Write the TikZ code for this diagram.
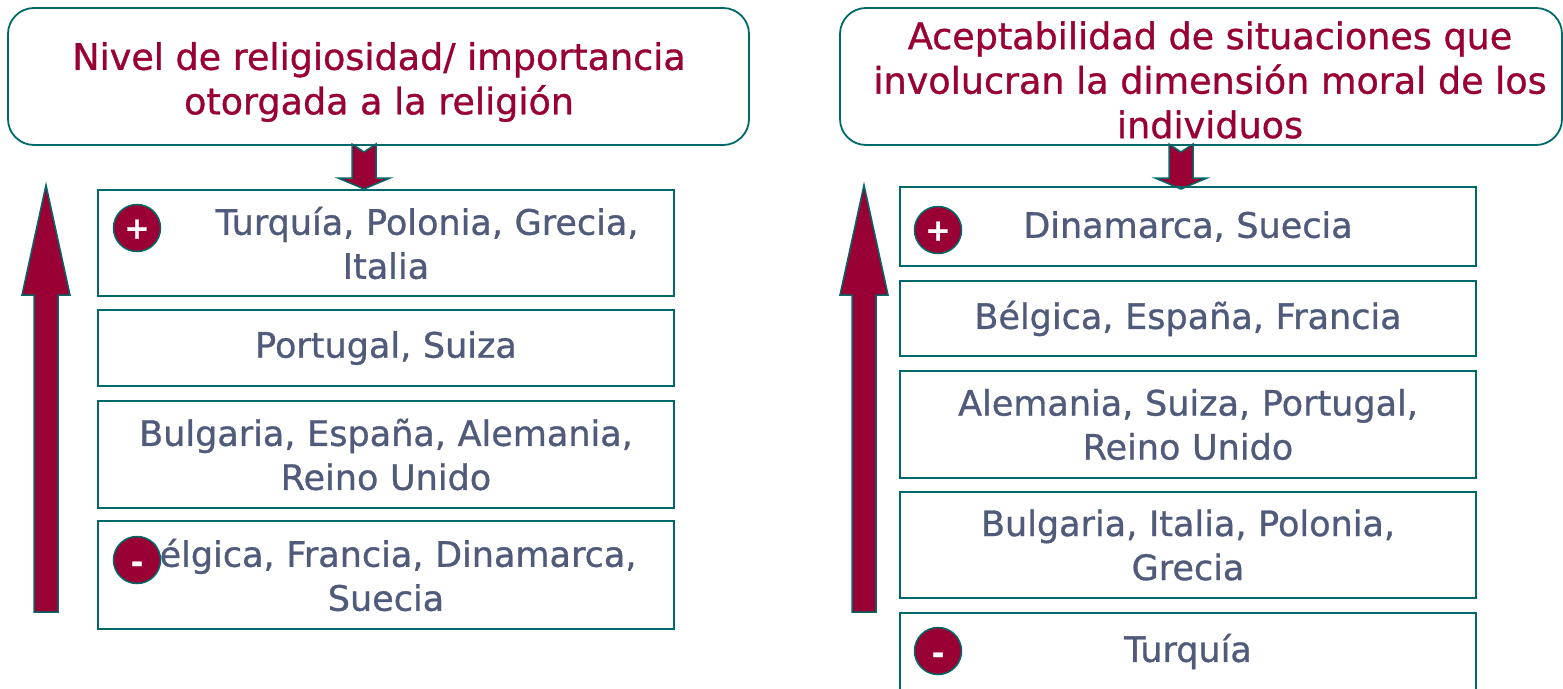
\documentclass[tikz,border=0pt]{standalone}
\usepackage{fontspec}
\setmainfont[FakeBold=0.9]{DejaVu Sans}
\definecolor{crim}{RGB}{153,0,51}
\definecolor{teal}{RGB}{0,104,104}
\definecolor{slate}{RGB}{80,90,122}
\begin{document}
\begin{tikzpicture}[x=1pt,y=-1pt,
  hdr/.style={draw=teal,line width=1.8pt,rounded corners=26pt,fill=white},
  hdrtext/.style={text=crim,align=center,font=\fontsize{36.5}{44.5}\selectfont,inner sep=0pt},
  item/.style={draw=teal,line width=1.8pt,minimum width=576pt,text width=574pt,align=center,
    text=slate,font=\fontsize{35}{44}\selectfont,inner sep=0pt},
  bigarrow/.style={fill=crim,draw=teal,line width=1.5pt,line join=miter},
  sign/.style={circle,fill=crim,draw=teal,line width=1.5pt,minimum size=47pt,inner sep=0pt,
    text height=0pt,text depth=0pt,
    text=white,font=\bfseries\fontsize{30}{30}\selectfont}]
\useasboundingbox (0,0) rectangle (1563,688);
% headers
\draw[hdr] (8,8) rectangle (749,145);
\node[hdrtext] (h1) at (379,82) {Nivel de religiosidad/ importancia\\otorgada a la religión};
\draw[hdr] (840,8) rectangle (1562,145);
\node[hdrtext] (h2) at (1210,80) {Aceptabilidad de situaciones que\\involucran la dimensión moral de los\\individuos};
% down arrows
\draw[bigarrow] (352,144) -- (364,152) -- (376,144) -- (376,178) -- (390,178) -- (364,189) -- (338,178) -- (352,178) -- cycle;
\draw[bigarrow] (1169,144) -- (1181,152) -- (1193,144) -- (1193,178) -- (1207,178) -- (1181,189) -- (1155,178) -- (1169,178) -- cycle;
% up arrows
\draw[bigarrow] (34,612) -- (34,295) -- (22,295) -- (46,185) -- (70,295) -- (58,295) -- (58,612) -- cycle;
\draw[bigarrow] (852,612) -- (852,295) -- (840,295) -- (864,185) -- (888,295) -- (876,295) -- (876,612) -- cycle;
% left boxes
\node[item,minimum height=106pt] (l1) at (386,243) {\hspace*{82pt}Turquía, Polonia, Grecia,\\Italia};
\node[item,minimum height=76pt] (l2) at (386,348) {Portugal, Suiza};
\node[item,minimum height=107pt] (l3) at (386,454.5) {Bulgaria, España, Alemania,\\Reino Unido};
\node[item,minimum height=108pt] (l4) at (386,575) {Bélgica, Francia, Dinamarca,\\Suecia};
% right boxes
\node[item,minimum height=79pt] (r1) at (1188,226.5) {Dinamarca, Suecia};
\node[item,minimum height=75pt] (r2) at (1188,318.5) {Bélgica, España, Francia};
\node[item,minimum height=107pt] (r3) at (1188,424.5) {Alemania, Suiza, Portugal,\\Reino Unido};
\node[item,minimum height=106pt] (r4) at (1188,545) {Bulgaria, Italia, Polonia,\\Grecia};
\node[item,minimum height=77pt] (r5) at (1188,651.5) {Turquía};
% signs
\node[sign] (lp) at (137,228) {\raisebox{-10.5pt}{+}};
\node[sign] (lm) at (137,560) {\raisebox{-12.5pt}{-}};
\node[sign] (rp) at (938,230) {\raisebox{-10.5pt}{+}};
\node[sign] (rm) at (938,651) {\raisebox{-12.5pt}{-}};
\end{tikzpicture}
\end{document}
